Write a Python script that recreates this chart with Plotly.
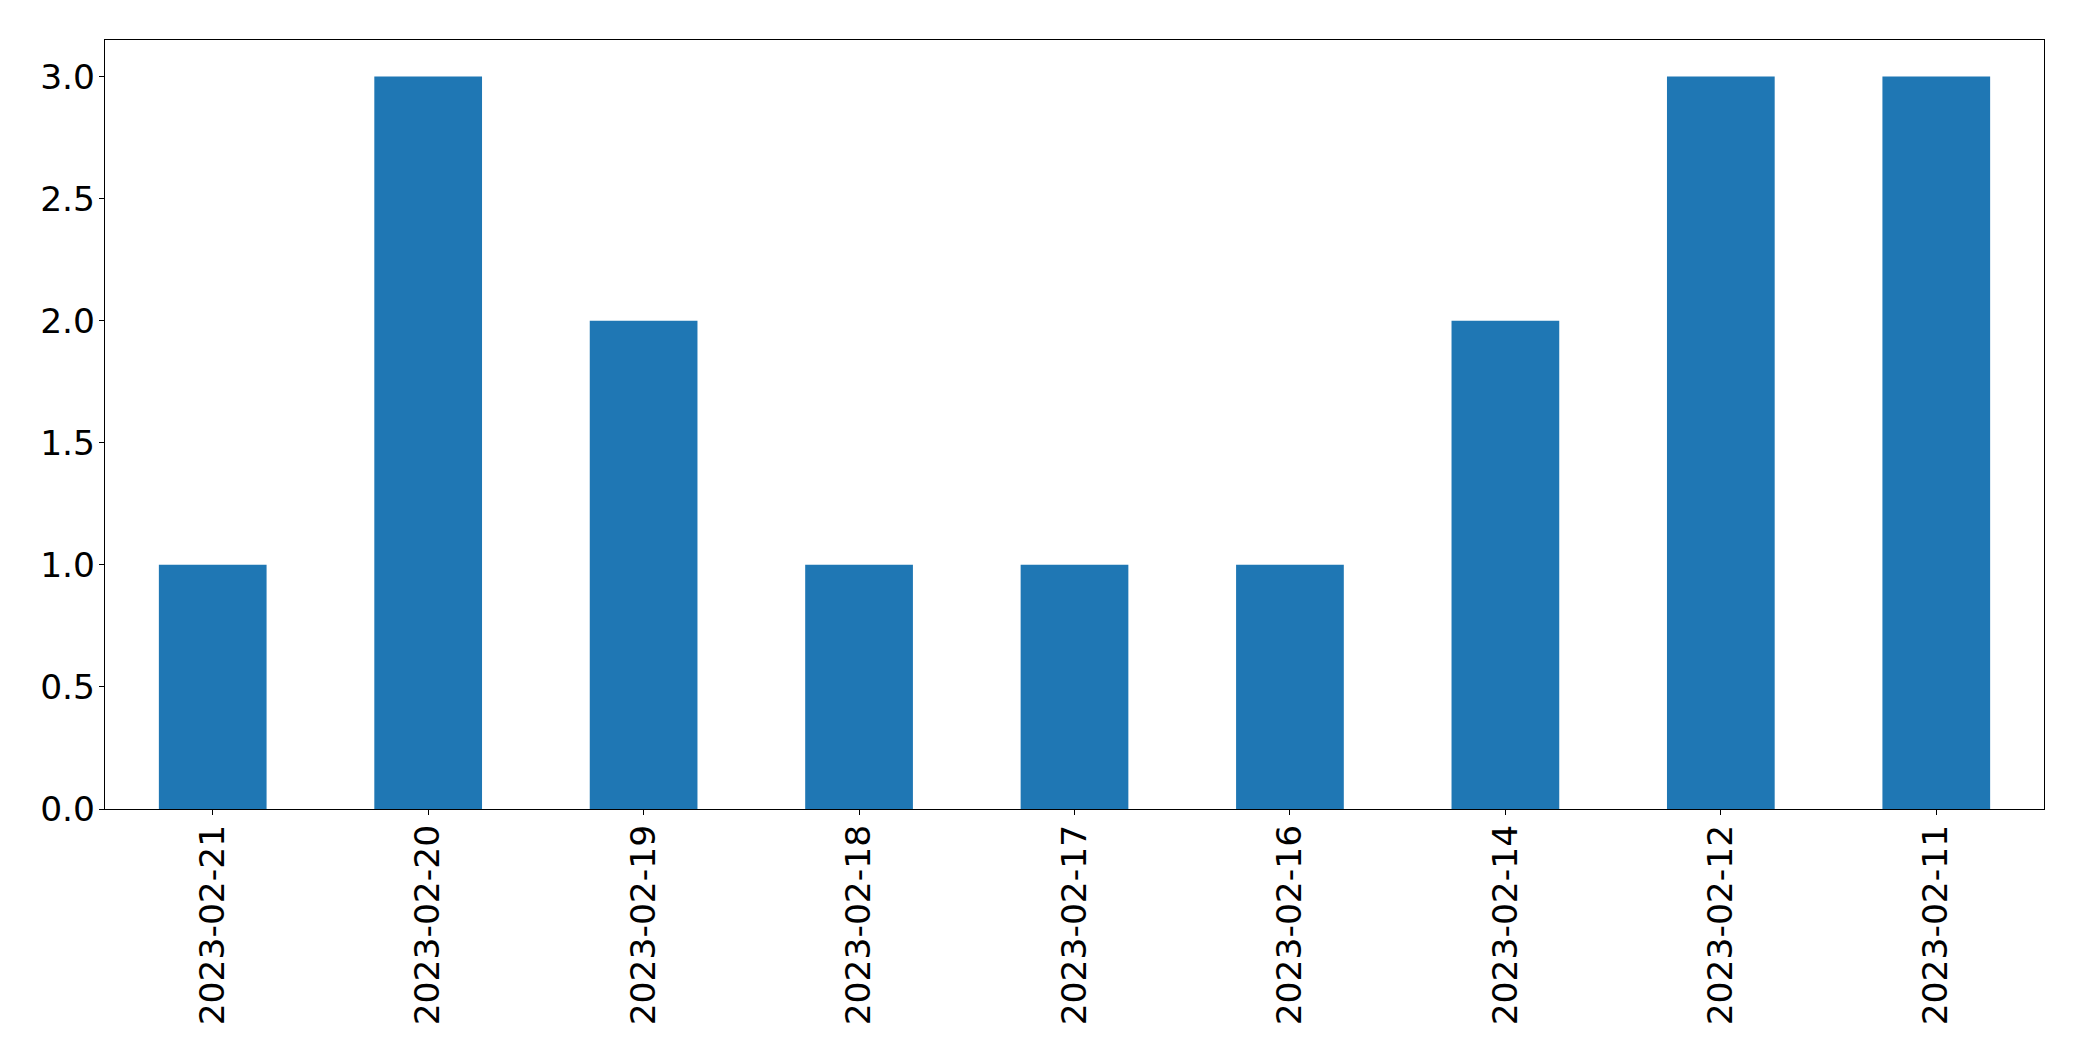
import plotly.graph_objects as go

dates = ["2023-02-21", "2023-02-20", "2023-02-19", "2023-02-18", "2023-02-17",
         "2023-02-16", "2023-02-14", "2023-02-12", "2023-02-11"]
counts = [1, 3, 2, 1, 1, 1, 2, 3, 3]
y_ticks = [0.0, 0.5, 1.0, 1.5, 2.0, 2.5, 3.0]

fig = go.Figure(go.Bar(x=dates, y=counts, width=0.5, marker=dict(color="#1f77b4", line=dict(width=0))))

axis_common = dict(showline=True, linecolor="black", linewidth=1.1, mirror=True,
                   ticks="outside", ticklen=5, tickwidth=1.1, tickcolor="black",
                   showgrid=False, zeroline=False,
                   tickfont=dict(family="DejaVu Sans", size=34.5, color="black"))

# page body has an 8px margin, so the figure is offset by 8px
fig.update_layout(
    width=2074, height=1053,
    margin=dict(l=97, r=38, t=32, b=252),
    paper_bgcolor="white", plot_bgcolor="white",
    showlegend=False,
    xaxis=dict(type="category", range=[-0.5, 8.5], tickangle=-90, ticklabelstandoff=-4, **axis_common),
    yaxis=dict(range=[0, 3.15], tickvals=y_ticks, tickformat=".1f", ticklabelstandoff=-3, **axis_common),
)

fig.write_html("out.html")
